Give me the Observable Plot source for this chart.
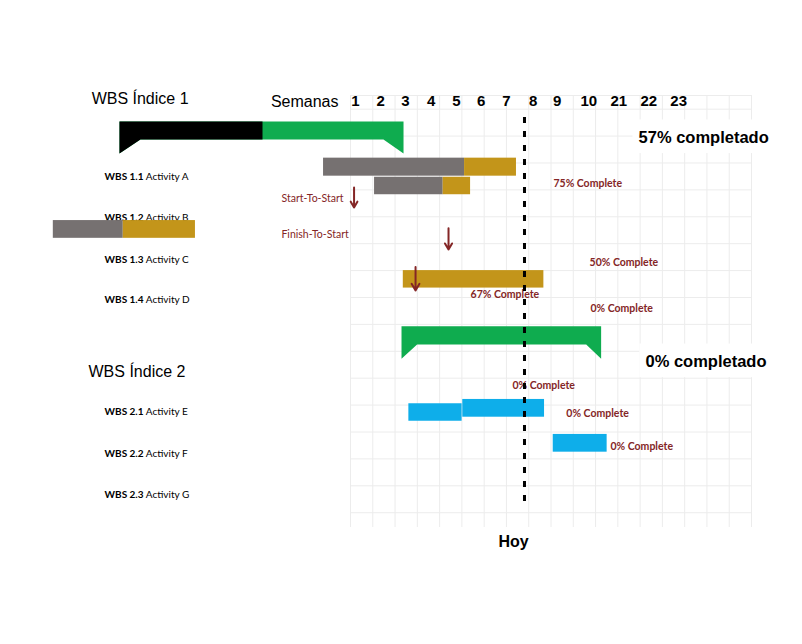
<!DOCTYPE html>
<html>
<head>
<meta charset="utf-8">
<script src="https://cdn.jsdelivr.net/npm/d3@7"></script>
<script src="https://cdn.jsdelivr.net/npm/@observablehq/plot@0.6"></script>
<style>
  html, body { margin: 0; padding: 0; background: #ffffff; }
  #chart svg { display: block; }
</style>
</head>
<body>
<div id="chart"></div>
<script>
// ---------- data (x in week-grid columns, y in grid rows) ----------
const headerTitle = "Semanas";
const headerLabels = ["1", "2", "3", "4", "5", "6", "7", "8", "9", "10", "21", "22", "23"];
const headerPos = [0.22, 1.35, 2.47, 3.62, 4.76, 5.87, 7.0, 8.2, 9.28, 10.7, 12.04, 13.39, 14.73];

const groupNames = ["WBS Índice 1", "WBS Índice 2"];
const groupX = [-11.62, -11.76];
const groupRows = [-0.40, 9.75];

const activityCodes = ["WBS 1.1", "WBS 1.2", "WBS 1.3", "WBS 1.4", "WBS 2.1", "WBS 2.2", "WBS 2.3"];
const activityNames = ["Activity A", "Activity B", "Activity C", "Activity D", "Activity E", "Activity F", "Activity G"];
const activityRows = [2.50, 4.03, 5.59, 7.08, 11.24, 12.80, 14.32];

// summary bars
const summaryStart = [-10.37, 2.29];
const summaryDone = [-3.95, 2.29];
const summaryEnd = [2.38, 11.25];
const summaryTop = [0.457, 8.07];
const summaryBottom = [1.126, 8.75];
const summaryTip = [1.647, 9.28];
const summaryLabels = ["57% completado", "0% completado"];
const summaryLabelX = [12.93, 13.24];
const summaryLabelY = [1.05, 9.38];

// progress task bars (done part, remaining part)
const taskStart = [-1.21, 1.08, -13.34, 2.37];
const taskDone = [5.12, 4.16, -10.20, 2.37];
const taskEnd = [7.45, 5.39, -6.96, 8.68];
const taskTop = [1.82, 2.53, 4.14, 6.00];
const taskBottom = [2.49, 3.18, 4.80, 6.65];

// not-started bars
const planStart = [2.62, 5.04, 9.10];
const planEnd = [5.01, 8.71, 11.52];
const planTop = [10.95, 10.79, 12.09];
const planBottom = [11.60, 11.45, 12.75];

// percent labels
const pctLabels = ["75% Complete", "50% Complete", "67% Complete", "0% Complete", "0% Complete", "0% Complete", "0% Complete"];
const pctX = [9.11, 10.73, 5.39, 10.77, 7.27, 9.69, 11.67];
const pctY = [2.76, 5.70, 6.89, 7.41, 10.27, 11.31, 12.54];

// dependencies
const depLabels = ["Start-To-Start", "Finish-To-Start"];
const depLabelX = [-3.10, -3.10];
const depLabelY = [3.32, 4.66];
const depX = [0.16, 4.40, 2.92];
const depY1 = [2.91, 4.43, 5.87];
const depY2 = [3.65, 5.22, 6.74];

// today
const todayX = 7.81;
const todayY1 = 0.31;
const todayY2 = 14.81;
const todayLabel = "Hoy";
const todayLabelX = 7.32;
const todayLabelY = 16.1;

// grid
const gridCols = d3.range(0, 19);
const gridRows = [-0.509, ...d3.range(0, 16)];
const gridTop = -0.509, gridBottom = 15.55;

// ---------- styles ----------
const C = {
  gray: "#767171", gold: "#c3951a", green: "#0fac4f", blue: "#0eaeea",
  black: "#000000", maroon: "#842626", grid: "#ececec"
};
const slantL = [0.94, 0.70];
const slantR = [0.90, 0.67];
const sans = "Liberation Sans, Arial, sans-serif";
const small = "Lato, Carlito, Calibri, sans-serif";

// ---------- derived tables ----------
const headers = headerLabels.map((t, i) => ({t, x: headerPos[i]}));
const groups = groupNames.map((t, i) => ({t, x: groupX[i], y: groupRows[i]}));
const acts = activityCodes.map((c, i) => ({t: c + " " + activityNames[i], y: activityRows[i]}));
const tasks = taskStart.map((s, i) => ({s, d: taskDone[i], e: taskEnd[i], y1: taskTop[i], y2: taskBottom[i]}));
const plans = planStart.map((s, i) => ({s, e: planEnd[i], y1: planTop[i], y2: planBottom[i]}));
const pcts = pctLabels.map((t, i) => ({t, x: pctX[i], y: pctY[i]}));
const deps = depLabels.map((t, i) => ({t, x: depLabelX[i], y: depLabelY[i]}));
const arrows = depX.map((x, i) => ({x, y1: depY1[i], y2: depY2[i]}));
const sumLabels = summaryLabels.map((t, i) => ({t, x: summaryLabelX[i], y: summaryLabelY[i]}));

const fullShape = [], doneShape = [];
summaryStart.forEach((s, i) => {
  const e = summaryEnd[i], d = summaryDone[i], t = summaryTop[i], b = summaryBottom[i], p = summaryTip[i];
  [[s, t], [e, t], [e, p], [e - slantR[i], b], [s + slantL[i], b], [s, p], [s, t]]
    .forEach(([x, y]) => fullShape.push({id: i, x, y}));
  if (d > s) {
    [[s, t], [d, t], [d, b], [s + slantL[i], b], [s, p], [s, t]]
      .forEach(([x, y]) => doneShape.push({id: i, x, y}));
  }
});

const chart = Plot.plot({
  width: 802,
  height: 644,
  marginLeft: 350,
  marginRight: 51,
  marginTop: 95,
  marginBottom: 117,
  x: {domain: [0, 18], axis: null},
  y: {domain: [gridTop, gridBottom], reverse: true, axis: null},
  style: {background: "#ffffff", overflow: "visible"},
  marks: [
    Plot.ruleX(gridCols, {y1: gridTop, y2: gridBottom, stroke: C.grid, strokeWidth: 1}),
    Plot.ruleY(gridRows, {x1: 0, x2: 18, stroke: C.grid, strokeWidth: 1}),
    // white backing panels behind the summary percentages
    Plot.rect(sumLabels, {x1: d => d.x - 0.25, x2: 18.05, y1: d => d.y - 0.65, y2: d => d.y + 0.6, fill: "#ffffff"}),
    Plot.text([headerTitle], {x: -0.54, y: -0.28, text: d => d, textAnchor: "end", lineAnchor: "middle", fontFamily: sans, fontSize: 16, fill: C.black}),
    Plot.text(headers, {x: "x", y: -0.28, text: "t", textAnchor: "middle", lineAnchor: "middle", fontFamily: sans, fontSize: 15, fontWeight: "bold", fill: C.black}),
    Plot.text(groups, {x: "x", y: "y", text: "t", textAnchor: "start", lineAnchor: "middle", fontFamily: sans, fontSize: 16, fill: C.black}),
    Plot.text(acts, {x: -11.04, y: "y", text: "t", textAnchor: "start", lineAnchor: "middle", fontFamily: small, fontSize: 10, fill: C.black}),
    Plot.line(fullShape, {x: "x", y: "y", z: "id", fill: C.green, stroke: "none", curve: "linear"}),
    Plot.line(doneShape, {x: "x", y: "y", z: "id", fill: C.black, stroke: "none", curve: "linear"}),
    Plot.rect(tasks, {x1: "s", x2: "d", y1: "y1", y2: "y2", fill: C.gray}),
    Plot.rect(tasks, {x1: "d", x2: "e", y1: "y1", y2: "y2", fill: C.gold}),
    Plot.rect(plans, {x1: "s", x2: "e", y1: "y1", y2: "y2", fill: C.blue}),
    Plot.text(sumLabels, {x: "x", y: "y", text: "t", textAnchor: "start", lineAnchor: "middle", fontFamily: sans, fontSize: 16.5, fontWeight: "bold", fill: C.black}),
    Plot.text(pcts, {x: "x", y: "y", text: "t", textAnchor: "start", lineAnchor: "middle", fontFamily: small, fontSize: 10.5, fontWeight: "bold", fill: C.maroon}),
    Plot.text(deps, {x: "x", y: "y", text: "t", textAnchor: "start", lineAnchor: "middle", fontFamily: small, fontSize: 10.5, fill: C.maroon}),
    Plot.arrow(arrows, {x1: "x", x2: "x", y1: "y1", y2: "y2", stroke: C.maroon, strokeWidth: 2, headLength: 6}),
    Plot.ruleX([todayX], {y1: todayY1, y2: todayY2, stroke: C.black, strokeWidth: 3, strokeDasharray: "6,8"}),
    Plot.text([todayLabel], {x: todayLabelX, y: todayLabelY, text: d => d, textAnchor: "middle", lineAnchor: "middle", fontFamily: sans, fontSize: 16, fontWeight: "bold", fill: C.black})
  ]
});

// bold the WBS code part of activity labels
d3.select(chart).selectAll("text").each(function () {
  const t = this.textContent;
  const m = t.match(/^(WBS \d\.\d) (.*)$/);
  if (m) {
    const sel = d3.select(this);
    sel.text(null);
    sel.append("tspan").attr("font-weight", "bold").text(m[1]);
    sel.append("tspan").attr("font-weight", "normal").text(" " + m[2]);
  }
});

document.getElementById("chart").appendChild(chart);
</script>
</body>
</html>
